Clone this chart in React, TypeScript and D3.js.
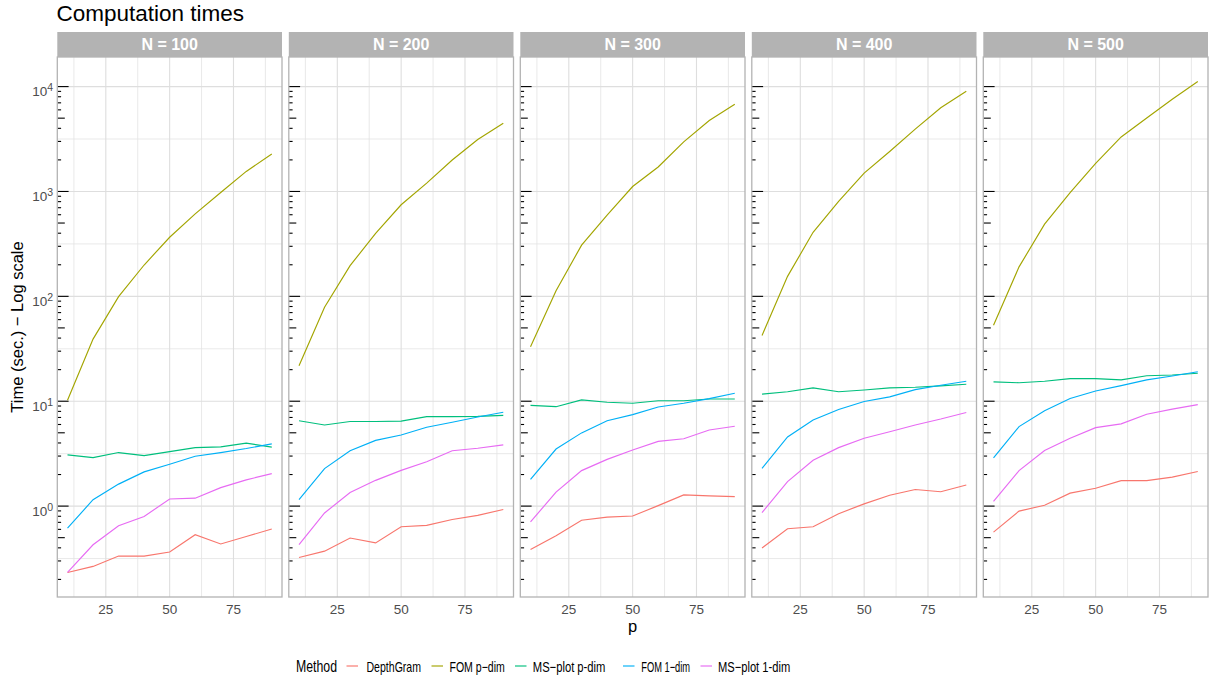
import React from "react";
import * as d3 from "d3";

const pValues = [10, 20, 30, 40, 50, 60, 70, 80, 90];
const panelLabels = ["N = 100", "N = 200", "N = 300", "N = 400", "N = 500"];
const methods = ["DepthGram", "FOM p-dim", "MS-plot p-dim", "FOM 1-dim", "MS-plot 1-dim"];
const methodColors = ["#F8766D", "#A3A500", "#00BF7D", "#00B0F6", "#E76BF3"];

// values per panel (N = 100 ... 500), each over pValues
const depthGram = [
  [0.233, 0.266, 0.334, 0.334, 0.365, 0.533, 0.435, 0.513, 0.604],
  [0.324, 0.372, 0.496, 0.446, 0.636, 0.655, 0.745, 0.815, 0.927],
  [0.386, 0.522, 0.734, 0.785, 0.804, 1.01, 1.28, 1.25, 1.23],
  [0.398, 0.608, 0.636, 0.847, 1.05, 1.27, 1.44, 1.37, 1.59],
  [0.565, 0.896, 1.02, 1.33, 1.48, 1.75, 1.75, 1.89, 2.14],
];
const fomPdim = [
  [10.2, 39.1, 99.3, 199, 366, 612, 978, 1553, 2276],
  [21.8, 78.7, 196, 399, 747, 1202, 1993, 3133, 4470],
  [33.0, 113, 308, 595, 1115, 1713, 2974, 4750, 6775],
  [42.3, 155, 408, 806, 1497, 2406, 3933, 6283, 9020],
  [53, 191, 488, 977, 1850, 3310, 5020, 7570, 11170],
];
const msPdim = [
  [3.08, 2.9, 3.24, 3.03, 3.31, 3.61, 3.67, 3.98, 3.65],
  [6.51, 5.94, 6.41, 6.41, 6.46, 7.12, 7.12, 7.18, 7.34],
  [9.14, 8.87, 10.3, 9.78, 9.56, 10.1, 10.1, 10.5, 10.5],
  [11.7, 12.3, 13.4, 12.3, 12.8, 13.4, 13.6, 14.0, 14.5],
  [15.3, 15.0, 15.5, 16.4, 16.4, 16.0, 17.5, 17.8, 18.5],
];
const fom1dim = [
  [0.617, 1.15, 1.62, 2.12, 2.51, 2.99, 3.24, 3.54, 3.92],
  [1.15, 2.28, 3.37, 4.23, 4.77, 5.64, 6.31, 7.07, 7.86],
  [1.8, 3.5, 4.99, 6.51, 7.45, 8.8, 9.57, 10.6, 11.9],
  [2.29, 4.56, 6.61, 8.35, 9.93, 11.0, 12.9, 14.2, 15.5],
  [2.88, 5.73, 8.13, 10.6, 12.5, 14.1, 16.0, 17.4, 19.1],
];
const ms1dim = [
  [0.233, 0.428, 0.649, 0.796, 1.17, 1.19, 1.5, 1.78, 2.04],
  [0.43, 0.86, 1.35, 1.76, 2.19, 2.65, 3.37, 3.56, 3.84],
  [0.706, 1.36, 2.18, 2.79, 3.43, 4.14, 4.39, 5.31, 5.77],
  [0.867, 1.71, 2.73, 3.61, 4.43, 5.11, 5.94, 6.76, 7.8],
  [1.11, 2.18, 3.39, 4.44, 5.6, 6.08, 7.52, 8.4, 9.29],
];
const seriesByMethod = [depthGram, fomPdim, msPdim, fom1dim, ms1dim];

const xTicks = [25, 50, 75];
const xMinor = [12.5, 37.5, 62.5, 87.5];
const yMajorExp = [0, 1, 2, 3, 4];

const FONT = "'Liberation Sans', Arial, Helvetica, sans-serif";

const W = 1209;
const H = 680;
const panelLeft0 = 57.3;
const panelStep = 231.5;
const panelW = 224.7;
const panelTop = 57;
const panelBottom = 597;
const stripTop = 32;

const legendItems = [
  { key: 346.5, label: 366.5, w: 54.5 },
  { key: 431.5, label: 449.5, w: 55.3 },
  { key: 515, label: 532.8, w: 72.6 },
  { key: 623, label: 641.3, w: 48.8 },
  { key: 700.5, label: 718, w: 72.2 },
];

export default function App() {
  const allVals = seriesByMethod.flat(2);
  const lmin = Math.log10(d3.min(allVals) as number);
  const lmax = Math.log10(d3.max(allVals) as number);
  const lpad = (lmax - lmin) * 0.05;
  const y = d3
    .scaleLog()
    .domain([Math.pow(10, lmin - lpad), Math.pow(10, lmax + lpad)])
    .range([panelBottom, panelTop]);
  const xExt = d3.extent(pValues) as [number, number];
  const xpad = (xExt[1] - xExt[0]) * 0.05;
  const xBase = d3.scaleLinear().domain([xExt[0] - xpad, xExt[1] + xpad]).range([0, panelW]);

  const [d0, d1] = y.domain();
  const yMinor: number[] = [];
  for (let e = -2; e <= 5; e++) {
    const v = Math.pow(10, e + 0.5);
    if (v > d0 && v < d1) yMinor.push(v);
  }
  const logTicks: { v: number; len: number }[] = [];
  for (let e = -2; e <= 5; e++) {
    for (let m = 1; m <= 9; m++) {
      const v = m * Math.pow(10, e);
      if (v >= d0 && v <= d1) {
        logTicks.push({ v, len: m === 1 ? 11.3 : m === 5 ? 7.5 : 3.8 });
      }
    }
  }

  const line = d3
    .line<[number, number]>()
    .x((d) => xBase(d[0]))
    .y((d) => y(d[1]));

  return (
    <svg width={W} height={H} style={{ display: "block", position: "absolute", left: 0, top: 0 }} fontFamily={FONT}>
      <rect x={0} y={0} width={W} height={H} fill="#ffffff" />
      <text x={56.5} y={21} fontSize={22.5} fill="#000">
        Computation times
      </text>

      {/* y tick labels */}
      {yMajorExp.map((e) => (
        <text key={e} x={53} y={y(Math.pow(10, e)) + 9.5} textAnchor="end" fontSize={13.5} fill="#4D4D4D">
          10
          <tspan dy={-5} fontSize={10.5}>
            {e}
          </tspan>
        </text>
      ))}

      <text
        transform={`translate(23,${(panelTop + panelBottom) / 2}) rotate(-90)`}
        textAnchor="middle"
        fontSize={16.5}
        fill="#000"
      >
        Time (sec.) − Log scale
      </text>

      {panelLabels.map((lab, i) => {
        const left = panelLeft0 + i * panelStep;
        return (
          <g key={lab} transform={`translate(${left},0)`}>
            <rect x={0} y={stripTop} width={panelW} height={panelTop - stripTop} fill="#B3B3B3" />
            <text x={panelW / 2} y={50} textAnchor="middle" fontSize={16} fontWeight="bold" fill="#fff">
              {lab}
            </text>
            {/* grid */}
            {yMinor.map((v) => (
              <line key={"ym" + v} x1={0} x2={panelW} y1={y(v)} y2={y(v)} stroke="#E3E3E3" strokeWidth={0.8} />
            ))}
            {xMinor.map((v) => (
              <line key={"xm" + v} x1={xBase(v)} x2={xBase(v)} y1={panelTop} y2={panelBottom} stroke="#E3E3E3" strokeWidth={0.8} />
            ))}
            {yMajorExp.map((e) => (
              <line
                key={"yM" + e}
                x1={0}
                x2={panelW}
                y1={y(Math.pow(10, e))}
                y2={y(Math.pow(10, e))}
                stroke="#DEDEDE"
                strokeWidth={1.1}
              />
            ))}
            {xTicks.map((v) => (
              <line key={"xM" + v} x1={xBase(v)} x2={xBase(v)} y1={panelTop} y2={panelBottom} stroke="#DEDEDE" strokeWidth={1.1} />
            ))}
            {/* log ticks */}
            {logTicks.map((t) => (
              <line key={"lt" + t.v} x1={0} x2={t.len} y1={y(t.v)} y2={y(t.v)} stroke="#000" strokeWidth={1.1} />
            ))}
            {/* data */}
            {seriesByMethod.map((s, m) => (
              <path
                key={methods[m]}
                d={line(pValues.map((p, k) => [p, s[i][k]] as [number, number])) || ""}
                fill="none"
                stroke={methodColors[m]}
                strokeWidth={1.15}
              />
            ))}
            <rect
              x={0}
              y={panelTop}
              width={panelW}
              height={panelBottom - panelTop}
              fill="none"
              stroke="#B3B3B3"
              strokeWidth={1.3}
            />
            {xTicks.map((v) => (
              <text key={"xl" + v} x={xBase(v)} y={614} textAnchor="middle" fontSize={13.5} fill="#4D4D4D">
                {v}
              </text>
            ))}
          </g>
        );
      })}

      <text x={(panelLeft0 + panelLeft0 + 4 * panelStep + panelW) / 2} y={632} textAnchor="middle" fontSize={16.5} fill="#000">
        p
      </text>

      {/* legend */}
      <g>
        <text x={296} y={672} fontSize={16} fill="#000" textLength={41} lengthAdjust="spacingAndGlyphs">
          Method
        </text>
        {methods.map((m, i) => (
          <g key={m}>
            <line x1={legendItems[i].key} x2={legendItems[i].key + 11.5} y1={666} y2={666} stroke={methodColors[i]} strokeWidth={1.15} />
            <text
              x={legendItems[i].label}
              y={671.5}
              fontSize={14.5}
              fill="#000"
              textLength={legendItems[i].w}
              lengthAdjust="spacingAndGlyphs"
            >
              {m.replace("-", "−")}
            </text>
          </g>
        ))}
      </g>
    </svg>
  );
}
